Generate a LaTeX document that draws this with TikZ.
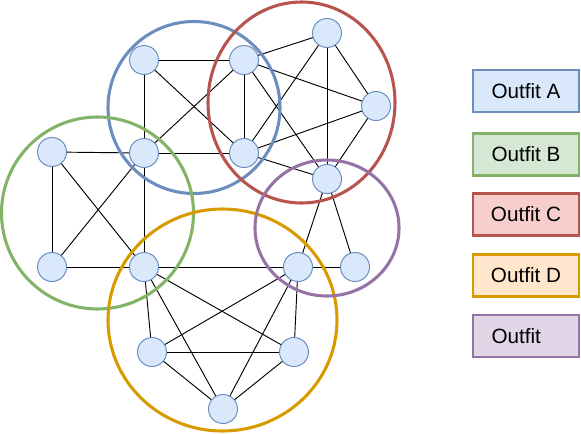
\documentclass[tikz,border=0pt]{standalone}
\usepackage{fontspec}
\setmainfont{Liberation Sans}
\usepackage{xcolor}
\usepackage{tikz}
\usetikzlibrary{positioning}

\definecolor{nodefill}{HTML}{DAE8FC}
\definecolor{outA}{HTML}{6C8EBF}
\definecolor{outB}{HTML}{82B366}
\definecolor{outC}{HTML}{B85450}
\definecolor{outD}{HTML}{D79B00}
\definecolor{outE}{HTML}{9673A6}
\definecolor{fillB}{HTML}{D5E8D4}
\definecolor{fillC}{HTML}{F8CECC}
\definecolor{fillD}{HTML}{FFE6CC}
\definecolor{fillE}{HTML}{E1D5E7}

\begin{document}
\begin{tikzpicture}[x=0.75pt,y=-0.75pt,
  vertex/.style={circle, draw=outA, fill=nodefill, line width=0.75pt,
                 inner sep=0pt, minimum size=21.75pt},
  link/.style={black, line width=0.7pt},
  group/.style={line width=2.3pt},
  legend/.style={draw, line width=1.6pt, minimum width=79.5pt,
                 minimum height=31.5pt, inner sep=0pt,
                 font=\fontsize{15.5}{18}\selectfont}]

  \useasboundingbox (0,0) rectangle (581,433);

  % ── the people (vertices) ───────────────────────────────────────────
  \foreach \p/\x/\y in {1/144/60, 2/244/60, 3/327/33, 4/376/106,
                        5/144/153, 6/244/153, 7/327/179,
                        8/52/152, 9/52/267, 10/144/267, 11/298/267, 12/355/267,
                        13/152/352, 14/294/352, 15/223/409}
    \node[vertex] (v\p) at (\x,\y) {};

  % ── who knows whom ──────────────────────────────────────────────────
  \foreach \a/\b in {1/2, 1/5, 1/6, 2/5, 2/6, 2/3, 2/4, 2/7,
                     3/4, 3/6, 3/7, 4/6, 4/7, 5/6, 6/7,
                     8/5, 8/9, 8/10, 5/9, 5/10, 9/10,
                     10/11, 11/12, 7/11, 7/12,
                     10/13, 10/14, 10/15, 11/13, 11/14, 11/15,
                     13/14, 13/15, 14/15}
    \draw[link] (v\a) -- (v\b);

  % ── the outfits (groups) ────────────────────────────────────────────
  \draw[group, outA] (194,107.5) circle (86);
  \draw[group, outC] (301.5,102.5) circle [x radius=93.5, y radius=100.5];
  \draw[group, outB] (97.5,213) circle (96);
  \draw[group, outD] (222.5,320) circle [x radius=114.5, y radius=111];
  \draw[group, outE] (327,228) circle [x radius=72, y radius=68];

  % ── legend ──────────────────────────────────────────────────────────
  \node[legend, draw=outA, fill=nodefill] (keyA) at (526,91)    {Outfit A};
  \node[legend, draw=outB, fill=fillB]    (keyB) at (526,154.5) {Outfit B};
  \node[legend, draw=outC, fill=fillC]    (keyC) at (526,214.5) {Outfit C};
  \node[legend, draw=outD, fill=fillD]    (keyD) at (526,275.5) {Outfit D};
  \node[legend, draw=outE, fill=fillE]    (keyE) at (526,336)   {Outfit\hphantom{ E}};

\end{tikzpicture}
\end{document}
